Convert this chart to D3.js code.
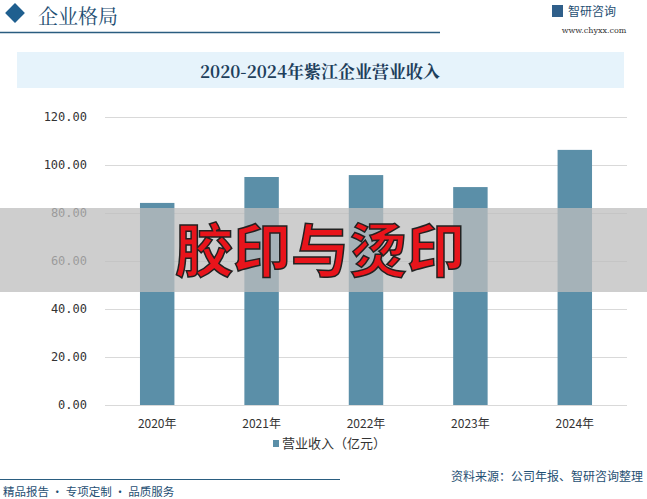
<!DOCTYPE html>
<html><head><meta charset="utf-8">
<script src="https://cdn.jsdelivr.net/npm/d3@7"></script>
<style>body{margin:0;background:#fff;font-family:"Noto Sans CJK SC",sans-serif}</style>
</head><body><svg id="c" width="647" height="499"></svg>
<script>
var years = ["2020年", "2021年", "2022年", "2023年", "2024年"];
var revenue = [84.2, 95.0, 95.8, 90.8, 106.3];
var yTicks = [0, 20, 40, 60, 80, 100, 120];

var svg = d3.select('#c');
var cjk = '"Noto Sans CJK SC", sans-serif';
var serif = '"Noto Serif CJK SC", "Noto Sans CJK SC", serif';

// header
svg.append('rect').attr('x', 8).attr('y', 6).attr('width', 14).attr('height', 14)
  .attr('transform', 'rotate(45 15 13)').attr('fill', '#1f5f8f');
svg.append('text').attr('x', 38).attr('y', 24).attr('font-size', 20).attr('fill', '#1f4f73')
  .attr('font-family', serif).text('企业格局');
svg.append('line').attr('x1', 0).attr('x2', 440).attr('y1', 32.5).attr('y2', 32.5)
  .attr('stroke', '#2a5d80').attr('stroke-width', 1.5);
svg.append('rect').attr('x', 552).attr('y', 5).attr('width', 11).attr('height', 12).attr('fill', '#2f5f8a');
svg.append('text').attr('x', 568).attr('y', 16).attr('font-size', 12).attr('fill', '#1f4f73')
  .attr('font-family', cjk).text('智研咨询');
svg.append('text').attr('x', 594).attr('y', 33).attr('font-size', 8).attr('fill', '#333')
  .attr('text-anchor', 'middle').attr('font-family', 'DejaVu Serif').text('www.chyxx.com');

// title box
svg.append('rect').attr('x', 17).attr('y', 52).attr('width', 607).attr('height', 36).attr('fill', '#e6f3fb');
svg.append('text').attr('x', 320).attr('y', 78).attr('text-anchor', 'middle').attr('font-size', 17)
  .attr('font-weight', 'bold').attr('fill', '#1e3f5c').attr('font-family', serif)
  .text('2020-2024年紫江企业营业收入');

var x = d3.scaleBand().domain(years).range([105, 627]).paddingInner(0.67).paddingOuter(0.335);
var y = d3.scaleLinear().domain([0, 120]).range([405, 117]);

var g = svg.append('g');
g.selectAll('line.grid').data(yTicks).enter().append('line')
  .attr('x1', 105).attr('x2', 627).attr('y1', function(d){return y(d)+0.5;}).attr('y2', function(d){return y(d)+0.5;})
  .attr('stroke', '#d9d9d9');
g.selectAll('text.yl').data(yTicks).enter().append('text')
  .attr('x', 87).attr('y', function(d){return y(d)+4;}).attr('text-anchor', 'end')
  .attr('font-size', 12).attr('fill', '#333').attr('font-family', '"DejaVu Sans Mono", monospace')
  .text(function(d){return d.toFixed(2);});
g.selectAll('rect.bar').data(revenue).enter().append('rect')
  .attr('x', function(d, i){return x(years[i]);}).attr('width', x.bandwidth())
  .attr('y', function(d){return y(d);}).attr('height', function(d){return y(0)-y(d);})
  .attr('fill', '#5b8fa8');
g.selectAll('text.xl').data(years).enter().append('text')
  .attr('x', function(d){return x(d)+x.bandwidth()/2;}).attr('y', 428).attr('text-anchor', 'middle')
  .attr('font-size', 12).attr('fill', '#333').attr('font-family', cjk).text(function(d){return d;});

// legend
svg.append('rect').attr('x', 273).attr('y', 440).attr('width', 6).attr('height', 7).attr('fill', '#5b8fa8');
svg.append('text').attr('x', 282).attr('y', 448).attr('font-size', 13).attr('fill', '#333')
  .attr('font-family', cjk).text('营业收入（亿元）');

// overlay band
svg.append('rect').attr('x', 0).attr('y', 208).attr('width', 647).attr('height', 84)
  .attr('fill', '#bdbdbd').attr('opacity', 0.75);
svg.append('text').attr('x', 320).attr('y', 272).attr('text-anchor', 'middle').attr('font-size', 58)
  .attr('font-weight', 'bold').attr('fill', '#e8141b').attr('stroke', '#222').attr('stroke-width', 1.5)
  .attr('font-family', cjk).text('胶印与烫印');

// footer
svg.append('line').attr('x1', 0).attr('x2', 340).attr('y1', 479.5).attr('y2', 479.5)
  .attr('stroke', '#2a5d80').attr('stroke-width', 1.2);
svg.append('text').attr('x', 643).attr('y', 481).attr('text-anchor', 'end').attr('font-size', 12)
  .attr('fill', '#1f4f73').attr('font-family', cjk).text('资料来源：公司年报、智研咨询整理');
svg.append('text').attr('x', 3).attr('y', 496).attr('font-size', 11.5)
  .attr('fill', '#1f4f73').attr('font-family', cjk).text('精品报告 · 专项定制 · 品质服务');
</script></body></html>
